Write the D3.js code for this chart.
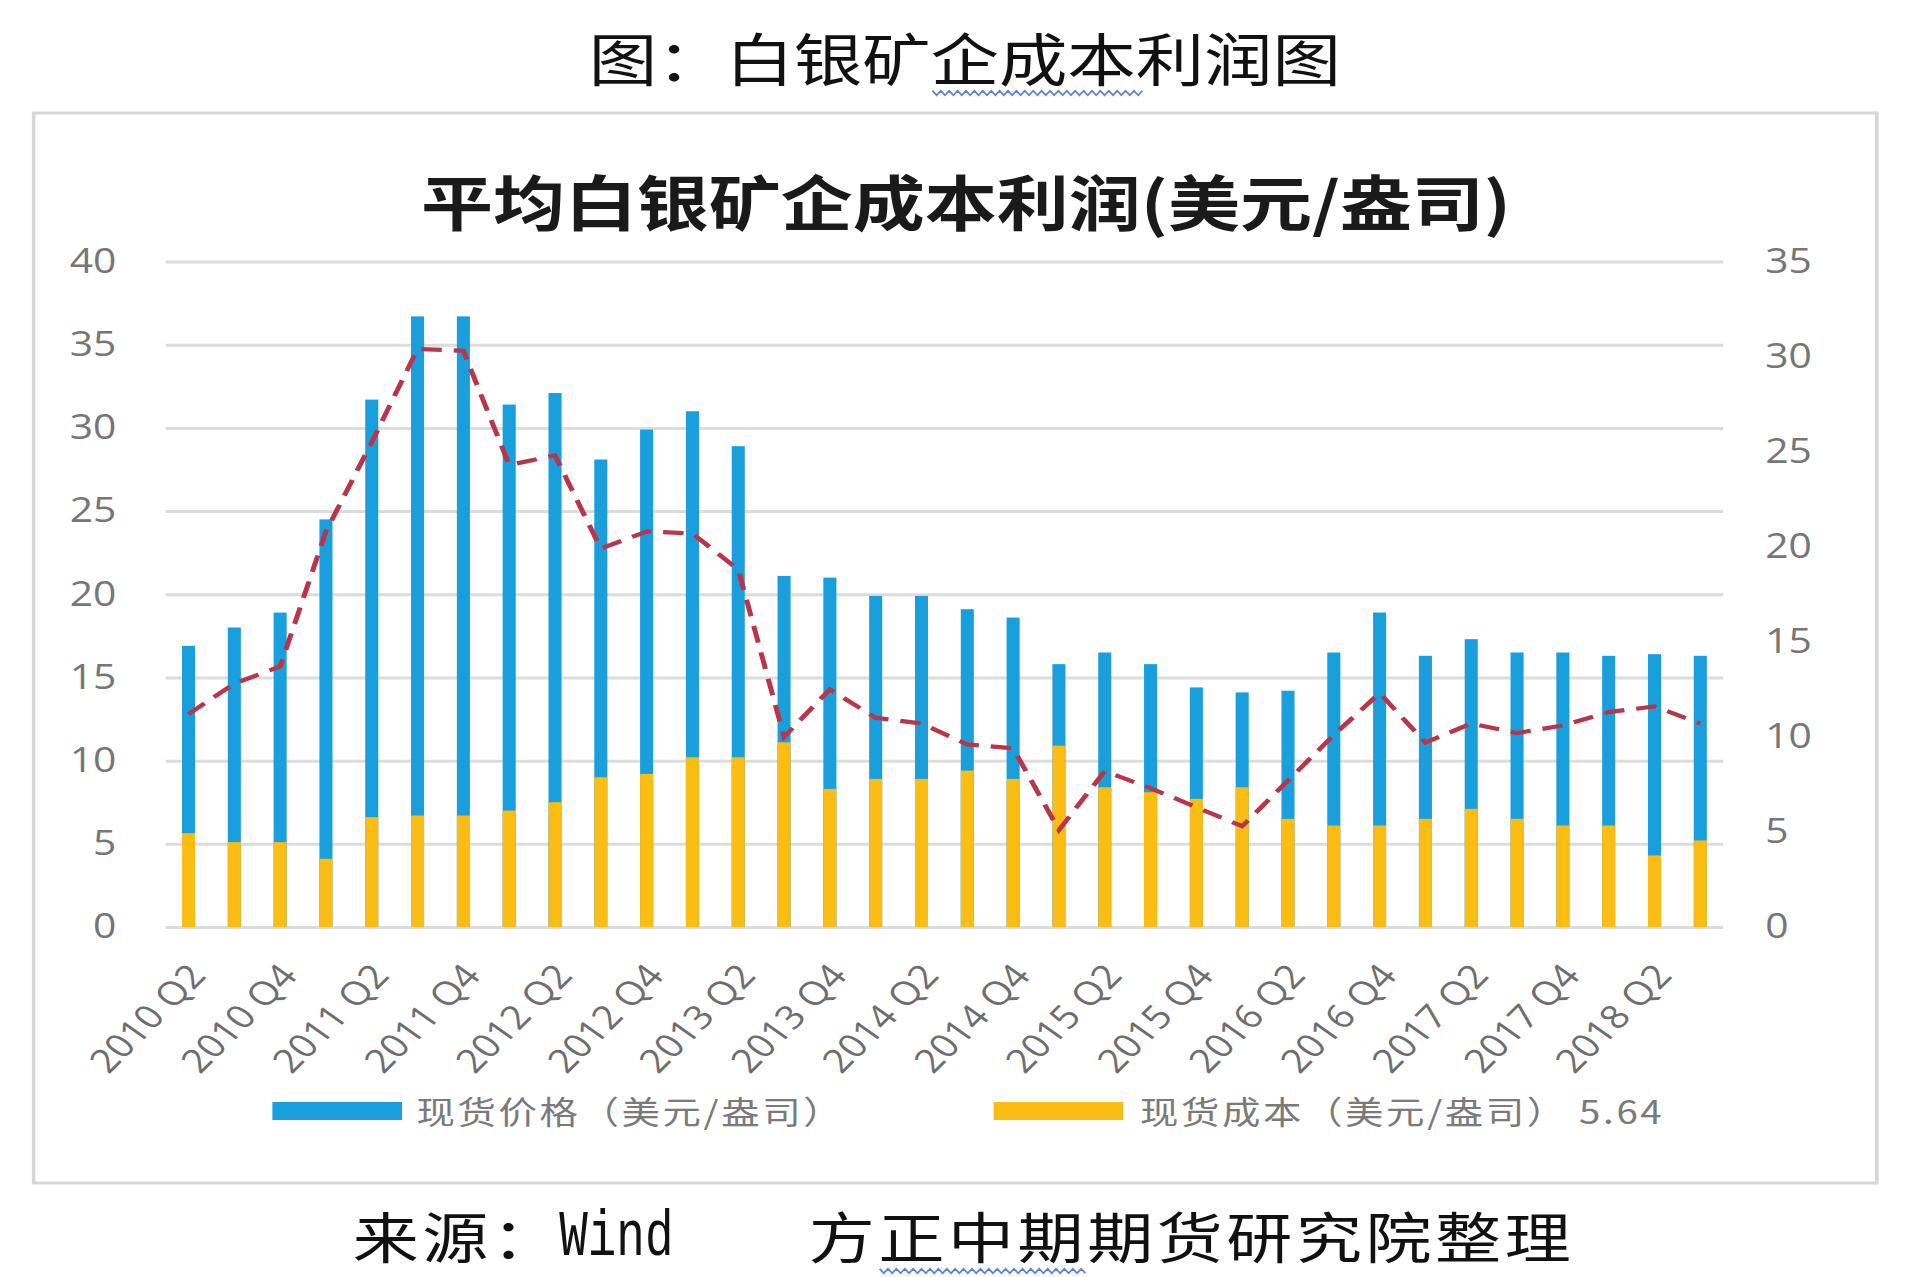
<!DOCTYPE html>
<html>
<head>
<meta charset="utf-8">
<script src="https://cdn.jsdelivr.net/npm/d3@7"></script>
<style>
  body { margin: 0; background: #fff; }
  svg { display: block; }
</style>
</head>
<body>
<svg id="chart" width="1920" height="1277"></svg>
<script>
// quarters 2010 Q2 .. 2018 Q3
var quarters = ["2010 Q2","2010 Q3","2010 Q4","2011 Q1","2011 Q2","2011 Q3","2011 Q4",
                "2012 Q1","2012 Q2","2012 Q3","2012 Q4","2013 Q1","2013 Q2","2013 Q3","2013 Q4",
                "2014 Q1","2014 Q2","2014 Q3","2014 Q4","2015 Q1","2015 Q2","2015 Q3","2015 Q4",
                "2016 Q1","2016 Q2","2016 Q3","2016 Q4","2017 Q1","2017 Q2","2017 Q3","2017 Q4",
                "2018 Q1","2018 Q2","2018 Q3"];
var tickLabels = ["2010 Q2","2010 Q4","2011 Q2","2011 Q4","2012 Q2","2012 Q4","2013 Q2","2013 Q4",
                  "2014 Q2","2014 Q4","2015 Q2","2015 Q4","2016 Q2","2016 Q4","2017 Q2","2017 Q4","2018 Q2"];

// 现货价格 (left axis)
var price = [16.9, 18.0, 18.9, 24.5, 31.7, 36.7, 36.7, 31.4, 32.1, 28.1, 29.9, 31.0, 28.9, 21.1, 21.0,
             19.9, 19.9, 19.1, 18.6, 15.8, 16.5, 15.8, 14.4, 14.1, 14.2, 16.5, 18.9, 16.3, 17.3, 16.5,
             16.5, 16.3, 16.4, 16.3];
// 现货成本 (left axis)
var cost = [5.64, 5.1, 5.1, 4.1, 6.6, 6.7, 6.7, 7.0, 7.5, 9.0, 9.2, 10.2, 10.2, 11.1, 8.3,
            8.9, 8.9, 9.4, 8.9, 10.9, 8.4, 8.1, 7.7, 8.4, 6.5, 6.1, 6.1, 6.5, 7.1, 6.5,
            6.1, 6.1, 4.3, 5.2];
// 利润 (right axis, dashed line)
var profit = [11.2, 12.8, 13.7, 20.8, 25.5, 30.4, 30.3, 24.3, 24.8, 19.9, 20.8, 20.7, 18.8, 10.0, 12.5,
              11.0, 10.7, 9.6, 9.4, 5.1, 8.2, 7.3, 6.3, 5.3, 7.7, 10.1, 12.3, 9.7, 10.7, 10.2,
              10.6, 11.3, 11.6, 10.7];

var leftTicks = [0, 5, 10, 15, 20, 25, 30, 35, 40];
var rightTicks = [0, 5, 10, 15, 20, 25, 30, 35];

var legendNames = ["现货价格（美元/盎司）", "现货成本（美元/盎司） 5.64"];
var colors = { price: "#1a9fdd", cost: "#fbbd14", line: "#b8354a" };

// the picture is stretched sideways, so draw in a narrower space and let the viewBox widen it
var W = 1600, H = 1277;
var svg = d3.select("#chart")
    .attr("viewBox", "0 0 " + W + " " + H)
    .attr("preserveAspectRatio", "none");

var plotL = 138, plotR = 1436, plotT = 261.5, plotB = 927;
var cjk = "'Noto Sans CJK SC', 'Noto Sans', sans-serif";
var num = "'Open Sans', 'Noto Sans', sans-serif";

// outer caption
svg.append("text")
    .attr("x", 804).attr("y", 56)
    .attr("text-anchor", "middle").attr("dominant-baseline", "central")
    .style("font-family", cjk).style("font-size", "57px").style("fill", "#111")
    .text("图：白银矿企成本利润图");

function wavy(x0, x1, y){
    var pts = [];
    var k = 0;
    for (var x = x0; x <= x1; x += 3.5) { pts.push([x, y + (k % 2 ? 2.2 : -2.2)]); k++; }
    return d3.line()(pts);
}
svg.append("path").attr("d", wavy(777, 954, 93))
    .attr("fill", "none").attr("stroke", "#5b83d6").attr("stroke-width", 1.6);

// chart frame
svg.append("rect")
    .attr("x", 28).attr("y", 113).attr("width", 1536).attr("height", 1070)
    .attr("fill", "#fff").attr("stroke", "#d6d6d6").attr("stroke-width", 3);

// chart title
svg.append("text")
    .attr("x", 805).attr("y", 200)
    .attr("text-anchor", "middle").attr("dominant-baseline", "central")
    .style("font-family", cjk).style("font-size", "60px").style("font-weight", "bold").style("fill", "#1a1a1a")
    .text("平均白银矿企成本利润(美元/盎司)");

var x = d3.scaleBand().domain(quarters).range([plotL, plotR]).paddingInner(0.715).paddingOuter(0.3575);
var yLeft = d3.scaleLinear().domain([0, 40]).range([plotB, plotT]);
var yRight = d3.scaleLinear().domain([0, 35]).range([plotB, plotT]);

// gridlines
var grid = svg.append("g").attr("transform", "translate(" + plotL + ",0)")
    .call(d3.axisLeft(yLeft).tickValues(leftTicks).tickSize(-(plotR - plotL)).tickFormat(""));
grid.select(".domain").remove();
grid.selectAll("line").attr("stroke", "#dcdcdc").attr("stroke-width", 3);

// left axis
var gl = svg.append("g").attr("transform", "translate(" + plotL + ",0)")
    .call(d3.axisLeft(yLeft).tickValues(leftTicks).tickSize(0).tickPadding(41));
gl.select(".domain").remove();
gl.selectAll("text").style("font-family", num).style("font-size", "34px").style("fill", "#767676");

// right axis
var gr = svg.append("g").attr("transform", "translate(" + plotR + ",0)")
    .call(d3.axisRight(yRight).tickValues(rightTicks).tickSize(0).tickPadding(35));
gr.select(".domain").remove();
gr.selectAll("text").style("font-family", num).style("font-size", "34px").style("fill", "#767676");

// bars: price behind, cost in front
svg.append("g").selectAll("rect").data(price).enter().append("rect")
    .attr("x", function(d, i){ return x(quarters[i]); })
    .attr("width", x.bandwidth())
    .attr("y", function(d){ return yLeft(d); })
    .attr("height", function(d){ return plotB - yLeft(d); })
    .attr("fill", colors.price);

svg.append("g").selectAll("rect").data(cost).enter().append("rect")
    .attr("x", function(d, i){ return x(quarters[i]); })
    .attr("width", x.bandwidth())
    .attr("y", function(d){ return yLeft(d); })
    .attr("height", function(d){ return plotB - yLeft(d); })
    .attr("fill", colors.cost);

// profit line
var line = d3.line()
    .x(function(d, i){ return x(quarters[i]) + x.bandwidth() / 2; })
    .y(function(d){ return yRight(d); });
svg.append("path").datum(profit)
    .attr("d", line)
    .attr("fill", "none")
    .attr("stroke", colors.line)
    .attr("stroke-width", 4.2)
    .attr("stroke-dasharray", "17,10");

// x axis labels
var gx = svg.append("g").attr("transform", "translate(0," + plotB + ")")
    .call(d3.axisBottom(x).tickValues(tickLabels).tickSize(0));
gx.select(".domain").remove();
gx.selectAll("text")
    .attr("x", 0).attr("y", 0).attr("dy", "0.35em")
    .attr("transform", "translate(7,42) rotate(-50)")
    .style("text-anchor", "end")
    .style("font-family", num).style("font-size", "33px").style("fill", "#6e6e6e");

// legend
var legend = svg.append("g");
var legendX = [227, 828];
var legendTextX = [347, 950];
legendNames.forEach(function(name, i){
    legend.append("rect")
        .attr("x", legendX[i]).attr("y", 1102)
        .attr("width", 108).attr("height", 18)
        .attr("fill", i === 0 ? colors.price : colors.cost);
    legend.append("text")
        .attr("x", legendTextX[i]).attr("y", 1110)
        .attr("dominant-baseline", "central")
        .style("font-family", cjk).style("font-size", "32px").style("letter-spacing", "2.2px")
        .style("fill", "#7a7a7a")
        .text(name);
});

// source line
var footY = 1234;
var foot = svg.append("g").style("fill", "#111");
foot.append("text").attr("x", 294).attr("y", footY).attr("dominant-baseline", "central")
    .style("font-family", cjk).style("font-size", "55px").style("letter-spacing", "3px").text("来源：");
foot.append("text")
    .attr("transform", "translate(466," + (footY + 21) + ") scale(0.62,1)")
    .style("font-family", "'Liberation Mono', 'DejaVu Sans Mono', monospace").style("font-size", "64px")
    .text("Wind");
foot.append("text").attr("x", 674).attr("y", footY).attr("dominant-baseline", "central")
    .style("font-family", cjk).style("font-size", "55px").style("letter-spacing", "3px").text("方正中期期货研究院整理");
svg.append("path").attr("d", wavy(733, 907, 1271))
    .attr("fill", "none").attr("stroke", "#5b83d6").attr("stroke-width", 1.6);
</script>
</body>
</html>
